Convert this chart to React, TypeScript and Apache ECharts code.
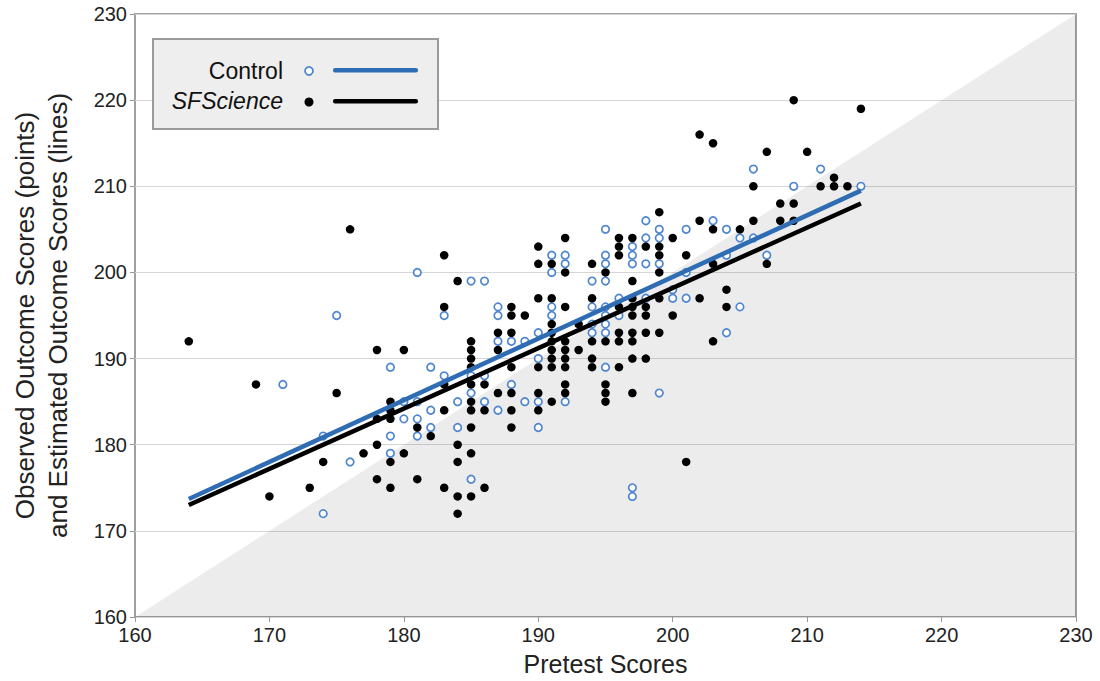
import React, { useEffect, useRef } from "react";
import * as echarts from "echarts";

const xTicks = [160, 170, 180, 190, 200, 210, 220, 230];
const yTicks = [160, 170, 180, 190, 200, 210, 220, 230];

const controlPoints: [number, number][] = [
  [171, 187], [174, 181], [174, 172], [175, 195], [176, 178],
  [179, 189], [179, 181], [179, 179],
  [180, 185], [180, 183],
  [181, 200], [181, 185], [181, 183], [181, 181],
  [182, 189], [182, 184], [182, 182],
  [183, 195], [183, 188],
  [184, 185], [184, 182],
  [185, 199], [185, 188], [185, 186], [185, 176],
  [186, 199], [186, 188], [186, 185],
  [187, 196], [187, 195], [187, 192], [187, 184],
  [188, 192], [188, 187],
  [189, 192], [189, 185],
  [190, 193], [190, 190], [190, 185], [190, 182],
  [191, 202], [191, 200], [191, 196], [191, 195],
  [192, 202], [192, 201], [192, 185],
  [194, 199], [194, 196], [194, 194], [194, 193],
  [195, 205], [195, 202], [195, 201], [195, 199], [195, 196], [195, 195], [195, 194], [195, 193], [195, 189],
  [196, 197], [196, 195],
  [197, 203], [197, 202], [197, 201], [197, 175], [197, 174],
  [198, 206], [198, 204], [198, 201], [198, 197],
  [199, 205], [199, 204], [199, 201], [199, 186],
  [200, 198], [200, 197],
  [201, 205], [201, 200], [201, 197],
  [203, 206],
  [204, 205], [204, 202], [204, 193],
  [205, 204], [205, 196],
  [206, 212], [206, 204],
  [207, 202],
  [209, 210],
  [211, 212],
  [214, 210],
];

const sfsciencePoints: [number, number][] = [
  [164, 192], [169, 187], [170, 174], [173, 175], [174, 178], [175, 186], [176, 205], [177, 179],
  [178, 191], [178, 183], [178, 180], [178, 176],
  [179, 185], [179, 184], [179, 183], [179, 178], [179, 175],
  [180, 191], [180, 179],
  [181, 182], [181, 176],
  [182, 181],
  [183, 202], [183, 196], [183, 187], [183, 184], [183, 175],
  [184, 199], [184, 180], [184, 178], [184, 174], [184, 172],
  [185, 192], [185, 191], [185, 190], [185, 189], [185, 187], [185, 185], [185, 184], [185, 182], [185, 179], [185, 174],
  [186, 187], [186, 184], [186, 175],
  [187, 193], [187, 191], [187, 186],
  [188, 196], [188, 195], [188, 193], [188, 189], [188, 186], [188, 184], [188, 182],
  [189, 195],
  [190, 203], [190, 201], [190, 197], [190, 189], [190, 186], [190, 184],
  [191, 201], [191, 197], [191, 194], [191, 193], [191, 192], [191, 191], [191, 190], [191, 189], [191, 185],
  [192, 204], [192, 200], [192, 196], [192, 192], [192, 191], [192, 190], [192, 189], [192, 187], [192, 186],
  [193, 194], [193, 191],
  [194, 201], [194, 197], [194, 192], [194, 190], [194, 189],
  [195, 200], [195, 192], [195, 187], [195, 186], [195, 185],
  [196, 204], [196, 203], [196, 202], [196, 196], [196, 193], [196, 192], [196, 189],
  [197, 204], [197, 199], [197, 197], [197, 196], [197, 195], [197, 193], [197, 192], [197, 190], [197, 186],
  [198, 203], [198, 196], [198, 195], [198, 193], [198, 190],
  [199, 207], [199, 203], [199, 202], [199, 200], [199, 197], [199, 193],
  [200, 204], [200, 195],
  [201, 202], [201, 178],
  [202, 216], [202, 206], [202, 197],
  [203, 215], [203, 205], [203, 201], [203, 192],
  [204, 198], [204, 196],
  [205, 205],
  [206, 210], [206, 206],
  [207, 214], [207, 201],
  [208, 208], [208, 206],
  [209, 220], [209, 208], [209, 206],
  [210, 214],
  [211, 210],
  [212, 211], [212, 210],
  [213, 210],
  [214, 219],
];

const controlLine: [number, number][] = [[164, 173.7], [214, 209.5]];
const sfscienceLine: [number, number][] = [[164, 173.0], [214, 208.0]];
const diagonal: [number, number][] = [[160, 160], [230, 230]];

const FONT = "'Liberation Sans', Arial, Helvetica, sans-serif";
const BLUE_LINE = "#2e6cb4";
const BLUE_MARK = "#4f86d0";
const LZ = 200;

export default function App() {
  const ref = useRef<HTMLDivElement>(null);
  useEffect(() => {
    if (!ref.current) return;
    const chart = echarts.init(ref.current, undefined, { renderer: "svg" });
    chart.setOption({
      animation: false,
      backgroundColor: "#ffffff",
      textStyle: { fontFamily: FONT },
      grid: {
        left: 128,
        top: 14,
        right: 24,
        bottom: 61,
        show: true,
        borderColor: "#a0a0a0",
        borderWidth: 2,
        backgroundColor: "transparent",
      },
      xAxis: {
        type: "value",
        min: xTicks[0],
        max: xTicks[xTicks.length - 1],
        interval: 10,
        name: "Pretest Scores",
        nameLocation: "middle",
        nameGap: 34,
        nameTextStyle: { fontSize: 25, color: "#222", fontFamily: FONT },
        axisLine: { show: false },
        axisTick: { show: true, length: 5, lineStyle: { color: "#999" } },
        axisLabel: { fontSize: 20, color: "#222", margin: 8, fontFamily: FONT },
        splitLine: { show: false },
      },
      yAxis: {
        type: "value",
        min: yTicks[0],
        max: yTicks[yTicks.length - 1],
        interval: 10,
        name: "Observed Outcome Scores (points)\nand Estimated Outcome Scores (lines)",
        nameLocation: "middle",
        nameGap: 61,
        nameTextStyle: { fontSize: 26, color: "#222", lineHeight: 33, fontFamily: FONT },
        axisLine: { show: false },
        axisTick: { show: true, length: 5, lineStyle: { color: "#999" } },
        axisLabel: { fontSize: 20, color: "#222", margin: 8, fontFamily: FONT },
        splitLine: { show: true, lineStyle: { color: "#d6d6d6", width: 1 } },
      },
      series: [
        {
          type: "line",
          data: diagonal,
          symbol: "none",
          silent: true,
          lineStyle: { width: 0 },
          areaStyle: { color: "rgba(0,0,0,0.075)", origin: "start", opacity: 1 },
          z: 1,
        },
        {
          name: "Control",
          type: "scatter",
          data: controlPoints,
          symbol: "circle",
          symbolSize: 7.5,
          itemStyle: { color: "#ffffff", borderColor: BLUE_MARK, borderWidth: 1.7, opacity: 1 },
          z: 3,
        },
        {
          name: "SFScience",
          type: "scatter",
          data: sfsciencePoints,
          symbol: "circle",
          symbolSize: 8.5,
          itemStyle: { color: "#000000", opacity: 1 },
          z: 3,
        },
        {
          name: "SFScience fit",
          type: "line",
          data: sfscienceLine,
          symbol: "none",
          lineStyle: { color: "#000000", width: 4.5 },
          z: 4,
        },
        {
          name: "Control fit",
          type: "line",
          data: controlLine,
          symbol: "none",
          lineStyle: { color: BLUE_LINE, width: 4.5 },
          z: 5,
        },
      ],
      graphic: [
        {
          type: "group",
          left: 152,
          top: 38,
          z: LZ,
          children: [
            {
              type: "rect",
              z: LZ,
              shape: { x: 0, y: 0, width: 285, height: 90 },
              style: { fill: "#eeeeee", stroke: "#9a9a9a", lineWidth: 2 },
            },
            {
              type: "text",
              z: LZ + 1,
              x: 130,
              y: 32,
              style: {
                text: "Control",
                align: "right",
                verticalAlign: "middle",
                fontSize: 23,
                fontFamily: FONT,
                fill: "#111",
              },
            },
            {
              type: "circle",
              z: LZ + 1,
              shape: { cx: 156, cy: 32, r: 4 },
              style: { fill: "#ffffff", stroke: BLUE_MARK, lineWidth: 1.8 },
            },
            {
              type: "rect",
              z: LZ + 1,
              shape: { x: 180, y: 29, width: 85, height: 4.5, r: 2 },
              style: { fill: BLUE_LINE },
            },
            {
              type: "text",
              z: LZ + 1,
              x: 130,
              y: 62,
              style: {
                text: "SFScience",
                align: "right",
                verticalAlign: "middle",
                fontSize: 23,
                fontStyle: "italic",
                fontFamily: FONT,
                fill: "#111",
              },
            },
            {
              type: "circle",
              z: LZ + 1,
              shape: { cx: 156, cy: 63, r: 4.5 },
              style: { fill: "#000000" },
            },
            {
              type: "rect",
              z: LZ + 1,
              shape: { x: 180, y: 60, width: 85, height: 4.5, r: 2 },
              style: { fill: "#000000" },
            },
          ],
        },
      ],
    });
    return () => chart.dispose();
  }, []);
  return (
    <div
      ref={ref}
      style={{ position: "absolute", left: 0, top: 0, width: 1100, height: 681 }}
    />
  );
}
